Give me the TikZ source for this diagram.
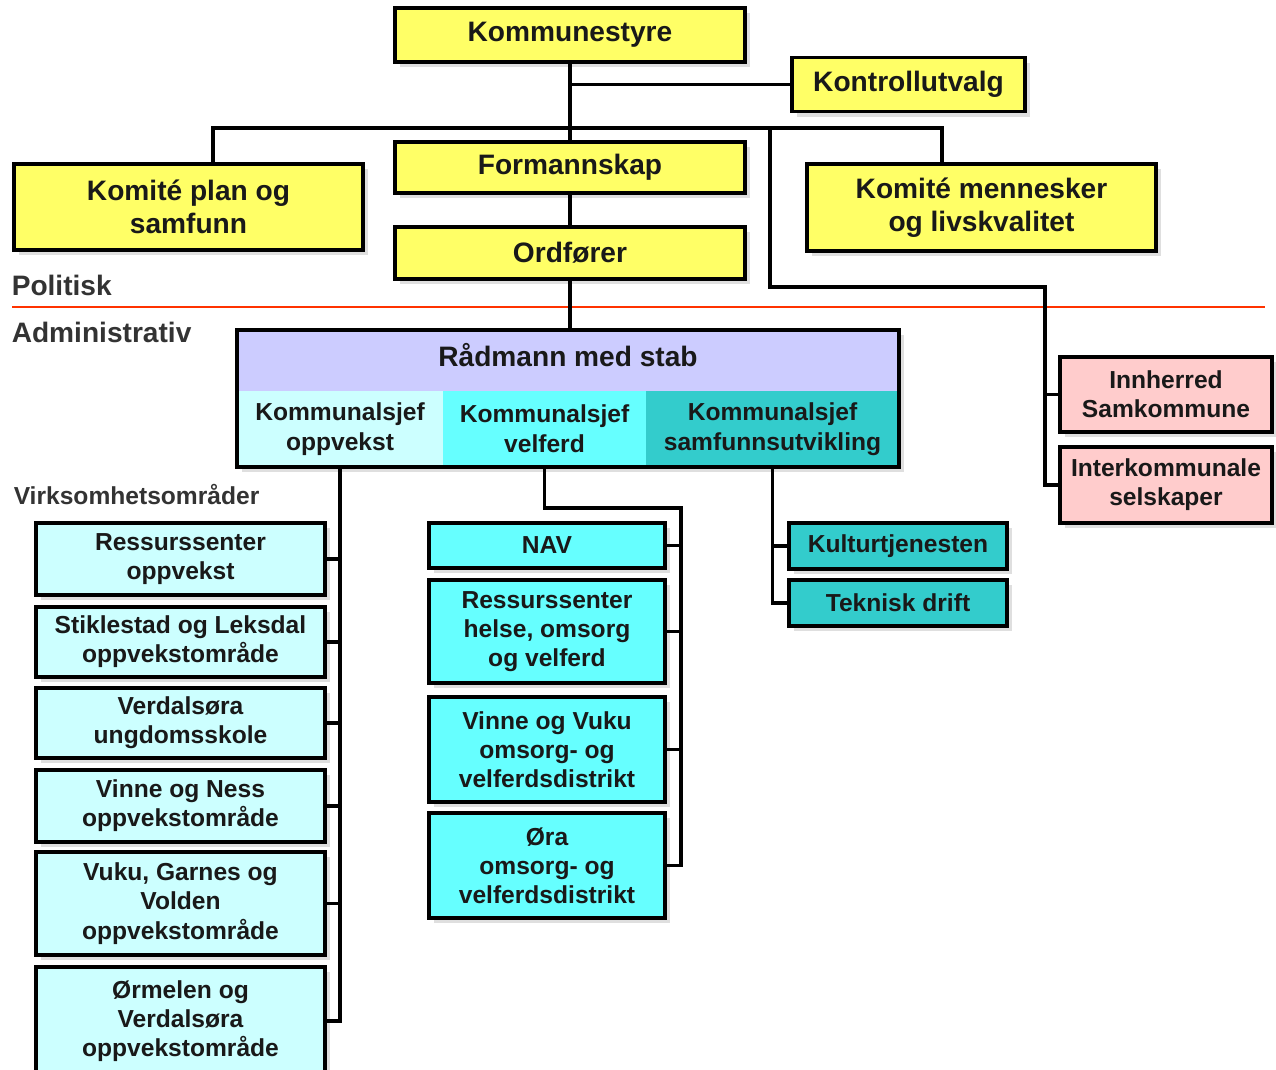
\documentclass[tikz,border=0pt]{standalone}
\usepackage{fontspec}
\setmainfont{Liberation Sans}
\usetikzlibrary{shadows}

\definecolor{gul}{HTML}{FFFF66}
\definecolor{lilla}{HTML}{CCCCFF}
\definecolor{lyscyan}{HTML}{CCFFFF}
\definecolor{velcyan}{HTML}{66FFFF}
\definecolor{samfteal}{HTML}{33CCCC}
\definecolor{rosa}{HTML}{FFCCCC}
\definecolor{skille}{HTML}{FF3300}

\begin{document}
\begin{tikzpicture}[x=0.02cm, y=-0.02cm, line width=2pt,
  box/.style={draw, inner sep=0pt, outer sep=0pt, align=center, text=black!90,
    font=\bfseries\fontsize{16}{18.7}\selectfont,
    drop shadow={shadow xshift=3pt, shadow yshift=-3pt, opacity=0.25}},
  small/.style={box, font=\bfseries\fontsize{14}{16.6}\selectfont},
  cell/.style={inner sep=0pt, outer sep=0pt, align=center, text=black!90,
    font=\bfseries\fontsize{14}{17}\selectfont},
  lbl/.style={anchor=west, inner sep=0pt, text=black!80}]
  \useasboundingbox (0,0) rectangle (1276,1070);

  % politisk nivaa
  \node[box, fill=gul, minimum width=7cm, minimum height=1.08cm] (kstyre) at (570,35) {Kommunestyre};
  \node[box, fill=gul, minimum width=4.66cm, minimum height=1.08cm] (kontroll) at (908.5,84.5) {Kontrollutvalg};
  \node[box, fill=gul, minimum width=7cm, minimum height=1.02cm] (formann) at (570,167.5) {Formannskap};
  \node[box, fill=gul, minimum width=7cm, minimum height=1.04cm] (ordf) at (570,253) {Ordfører};
  \node[box, fill=gul, minimum width=6.98cm, minimum height=1.72cm] (kplan) at (188.5,207) {Komité plan og\\samfunn};
  \node[box, fill=gul, minimum width=6.98cm, minimum height=1.74cm] (kmenn) at (981.5,207.5) {Komité mennesker\\og livskvalitet};

  \coordinate (lleg) at (213,128);
  \coordinate (rleg) at (942,128);
  \coordinate (ext) at (770,128);
  \coordinate (extknekk) at (1045,287);

  \draw (kstyre.south) -- (formann.north);
  \draw (kstyre.south |- kontroll.west) -- (kontroll.west);
  \draw (lleg |- kplan.north) -- (lleg) -- (rleg) -- (rleg |- kmenn.north);
  \draw (formann.south) -- (ordf.north);

  \node[lbl, font=\bfseries\fontsize{16}{18}\selectfont] (pol) at (10,285) {Politisk};
  \node[lbl, font=\bfseries\fontsize{16}{18}\selectfont] (adm) at (10,332) {Administrativ};
  \draw[skille, line width=1.2pt] (12,307) -- (1265,307);

  % administrativt nivaa
  \node[box, fill=white, minimum width=13.24cm, minimum height=2.74cm] (rad) at (568,398.5) {};
  \node[cell, fill=lilla, minimum width=13.24cm, minimum height=1.22cm, text depth=6pt] (radtop) at (568,360.5) {\fontsize{16}{18}\selectfont Rådmann med stab};
  \node[cell, fill=lyscyan, minimum width=4.12cm, minimum height=1.52cm] (opp) at (340,429) {Kommunalsjef\\oppvekst};
  \node[cell, fill=velcyan, minimum width=4.06cm, minimum height=1.52cm] (vel) at (544.5,429) {Kommunalsjef\\velferd};
  \node[cell, fill=samfteal, minimum width=5.06cm, minimum height=1.52cm] (samf) at (772.5,429) {Kommunalsjef\\samfunnsutvikling};
  \draw (rad.north west) rectangle (rad.south east);
  \draw (ordf.south) -- (ordf.south |- rad.north);

  % samarbeid
  \node[small, fill=rosa, minimum width=4.24cm, minimum height=1.5cm] (innh) at (1166,394.5) {Innherred\\Samkommune};
  \node[small, fill=rosa, minimum width=4.24cm, minimum height=1.52cm] (ikom) at (1166,485) {Interkommunale\\selskaper};
  \draw (ext) -- (ext |- extknekk) -- (extknekk) -- (extknekk |- ikom.west) -- (ikom.west);
  \draw (innh.west -| extknekk) -- (innh.west);

  \node[lbl, font=\bfseries\fontsize{14}{16}\selectfont] (virk) at (12,495) {Virksomhetsområder};

  % oppvekst
  \node[small, fill=lyscyan, minimum width=5.78cm, minimum height=1.44cm] (o1) at (180.5,559) {Ressurssenter\\oppvekst};
  \node[small, fill=lyscyan, minimum width=5.78cm, minimum height=1.4cm] (o2) at (180.5,642) {Stiklestad og Leksdal\\oppvekstområde};
  \node[small, fill=lyscyan, minimum width=5.78cm, minimum height=1.4cm] (o3) at (180.5,723) {Verdalsøra\\ungdomsskole};
  \node[small, fill=lyscyan, minimum width=5.78cm, minimum height=1.44cm] (o4) at (180.5,806) {Vinne og Ness\\oppvekstområde};
  \node[small, fill=lyscyan, minimum width=5.78cm, minimum height=2.06cm] (o5) at (180.5,903.5) {Vuku, Garnes og\\Volden\\oppvekstområde};
  \node[small, fill=lyscyan, minimum width=5.78cm, minimum height=2.16cm] (o6) at (180.5,1021) {Ørmelen og\\Verdalsøra\\oppvekstområde};
  \draw (opp.south) -- (opp.south |- o6.east) -- (o6.east);
  \foreach \b in {o1,o2,o3,o4,o5}
    \draw (\b.east) -- (\b.east -| opp.south);

  % velferd
  \coordinate (velknekk) at (681,508);
  \node[small, fill=velcyan, minimum width=4.72cm, minimum height=0.9cm] (v1) at (547,545.5) {NAV};
  \node[small, fill=velcyan, minimum width=4.72cm, minimum height=2.06cm] (v2) at (547,631.5) {Ressurssenter\\helse, omsorg\\og velferd};
  \node[small, fill=velcyan, minimum width=4.72cm, minimum height=2.1cm] (v3) at (547,749.5) {Vinne og Vuku\\omsorg- og\\velferdsdistrikt};
  \node[small, fill=velcyan, minimum width=4.72cm, minimum height=2.1cm] (v4) at (547,865.5) {Øra\\omsorg- og\\velferdsdistrikt};
  \draw (vel.south) -- (vel.south |- velknekk) -- (velknekk) -- (velknekk |- v4.east) -- (v4.east);
  \foreach \b in {v1,v2,v3}
    \draw (\b.east) -- (\b.east -| velknekk);

  % samfunnsutvikling
  \node[small, fill=samfteal, minimum width=4.36cm, minimum height=0.92cm] (s1) at (898,546) {Kulturtjenesten};
  \node[small, fill=samfteal, minimum width=4.36cm, minimum height=0.92cm] (s2) at (898,603) {Teknisk drift};
  \draw (samf.south) -- (samf.south |- s2.west) -- (s2.west);
  \draw (s1.west -| samf.south) -- (s1.west);
\end{tikzpicture}
\end{document}
